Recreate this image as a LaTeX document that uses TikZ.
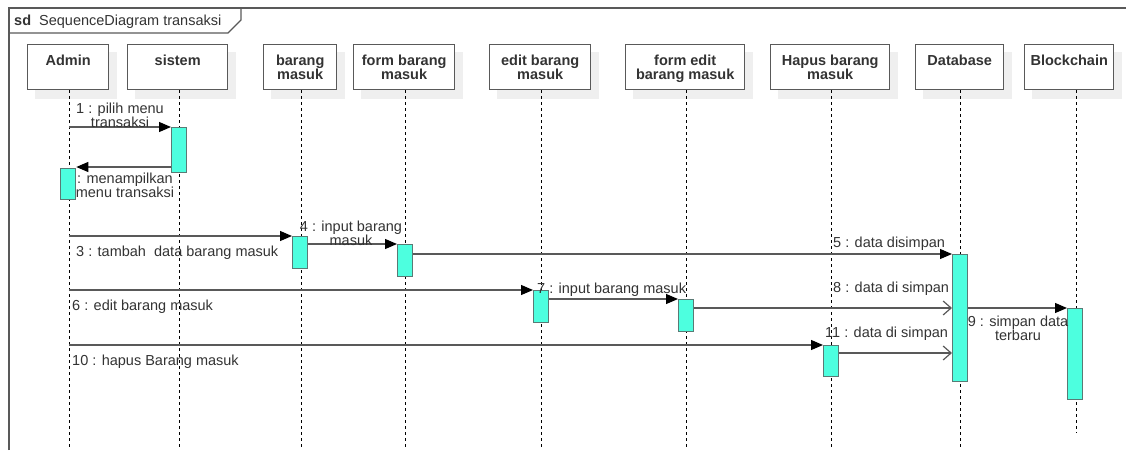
\documentclass[tikz,border=0pt]{standalone}
\usepackage{fontspec}
\setmainfont{Liberation Sans}
\usetikzlibrary{arrows.meta}
\definecolor{txt}{HTML}{333333}
\definecolor{ln}{HTML}{595959}
\definecolor{actfill}{HTML}{4DFFDF}
\definecolor{actdraw}{HTML}{5A7A75}
\definecolor{shadowc}{HTML}{EFEFEF}
\tikzset{
  lbl/.style={font=\fontsize{14.5}{14}\selectfont, text=txt, inner sep=0pt},
  head/.style={draw=ln, line width=1.4pt, fill=white, minimum height=45pt, inner sep=0pt, anchor=north west},
  headtxt/.style={font=\fontsize{14.5}{14}\selectfont\bfseries, text=txt, align=center, inner sep=0pt, anchor=north},
  life/.style={draw=black, line width=0.9pt, dash pattern=on 3pt off 3pt},
  act/.style={draw=actdraw, line width=1.3pt, fill=actfill, minimum width=15pt, inner sep=0pt, anchor=north west},
  msg/.style={draw=ln, line width=1.2pt, -{Triangle[length=12pt,width=10pt,color=black]}},
  ret/.style={draw=ln, line width=1.2pt, -{Straight Barb[length=8pt,width=14pt,line width=1.2pt]}},
}
\begin{document}
\begin{tikzpicture}[x=1pt,y=-1pt]
\useasboundingbox (0,0) rectangle (1126,450);
% frame
\coordinate (fbl) at (9,450);
\coordinate (ftl) at (9,8);
\coordinate (ftr) at (1126,8);
\coordinate (tab1) at (241,8);
\coordinate (tab2) at (241,20);
\coordinate (tab3) at (228,33);
\coordinate (tab4) at (9,33);
\draw[ln, line width=1.3pt] (fbl) -- (ftl) -- (ftr);
\draw[ln, line width=1.3pt] (tab1) -- (tab2) -- (tab3) -- (tab4);
\node[lbl, anchor=base west] (title) at (14,25) {\textbf{sd}\ \ SequenceDiagram transaksi};

% heads: shadows
\foreach \xa/\xb in {27/108,127/227,263/336,353/454,489/590,625/744,770/889,915/1003,1024/1113}{
  \fill[shadowc] (\xa+8,52) rectangle (\xb+9,99);
}
% lifelines
\coordinate (lAdmin) at (69,450);
\coordinate (lSis) at (179,450);
\coordinate (lBm) at (301,450);
\coordinate (lFbm) at (405,450);
\coordinate (lEd) at (541,450);
\coordinate (lFe) at (686,450);
\coordinate (lHp) at (831,450);
\coordinate (lDb) at (960,450);
\coordinate (lBc) at (1076,433);

\node[head, minimum width=81pt] (hAdmin) at (27,44) {};
\node[head, minimum width=100pt] (hSis) at (127,44) {};
\node[head, minimum width=73pt] (hBm) at (263,44) {};
\node[head, minimum width=101pt] (hFbm) at (353,44) {};
\node[head, minimum width=101pt] (hEd) at (489,44) {};
\node[head, minimum width=119pt] (hFe) at (625,44) {};
\node[head, minimum width=119pt] (hHp) at (770,44) {};
\node[head, minimum width=88pt] (hDb) at (915,44) {};
\node[head, minimum width=89pt] (hBc) at (1024,44) {};

\node[headtxt] (tAdmin) at ([yshift=-10.5pt]hAdmin.north) {Admin};
\node[headtxt] (tSis) at ([yshift=-10.5pt]hSis.north) {sistem};
\node[headtxt] (tBm) at ([yshift=-10.5pt]hBm.north) {barang\\masuk};
\node[headtxt] (tFbm) at ([yshift=-10.5pt]hFbm.north) {form barang\\masuk};
\node[headtxt] (tEd) at ([yshift=-10.5pt]hEd.north) {edit barang\\masuk};
\node[headtxt] (tFe) at ([yshift=-10.5pt]hFe.north) {form edit\\barang masuk};
\node[headtxt] (tHp) at ([yshift=-10.5pt]hHp.north) {Hapus barang\\masuk};
\node[headtxt] (tDb) at ([yshift=-10.5pt]hDb.north) {Database};
\node[headtxt] (tBc) at ([yshift=-10.5pt]hBc.north) {Blockchain};

\draw[life] (hAdmin.south -| lAdmin) -- (lAdmin);
\draw[life] (hSis.south -| lSis) -- (lSis);
\draw[life] (hBm.south -| lBm) -- (lBm);
\draw[life] (hFbm.south -| lFbm) -- (lFbm);
\draw[life] (hEd.south -| lEd) -- (lEd);
\draw[life] (hFe.south -| lFe) -- (lFe);
\draw[life] (hHp.south -| lHp) -- (lHp);
\draw[life] (hDb.south -| lDb) -- (lDb);
\draw[life] (hBc.south -| lBc) -- (lBc);

% activations
\node[act, minimum height=45pt] (s1) at (171,127) {};
\node[act, minimum height=31pt] (a1) at (60,168) {};
\node[act, minimum height=32pt] (bm1) at (292,236) {};
\node[act, minimum height=32pt] (fbm1) at (397,244) {};
\node[act, minimum height=127pt] (db1) at (952,254) {};
\node[act, minimum height=32pt] (ed1) at (533,290) {};
\node[act, minimum height=32pt] (fe1) at (678,299) {};
\node[act, minimum height=91pt] (bc1) at (1067,308) {};
\node[act, minimum height=31pt] (hp1) at (823,345) {};

% message coordinates
\coordinate (m1) at (69,127);
\coordinate (m2) at (0,167);
\coordinate (m3) at (69,236);
\coordinate (m6) at (69,290);
\coordinate (m10) at (69,345);
\coordinate (m11) at (0,353);

% messages
\draw[msg] (m1) -- (s1.north west);
\draw[msg] (s1.west |- m2) -- (a1.east |- m2);
\draw[msg] (m3) -- (bm1.north west);
\draw[msg] (bm1.east |- fbm1.north) -- (fbm1.north west);
\draw[msg] (fbm1.east |- db1.north) -- (db1.north west);
\draw[msg] (m6) -- (ed1.north west);
\draw[msg] (ed1.east |- fe1.north) -- (fe1.north west);
\draw[ret] (fe1.east |- bc1.north) -- (db1.west |- bc1.north);
\draw[msg] (db1.east |- bc1.north) -- (bc1.north west);
\draw[msg] (m10) -- (hp1.north west);
\draw[ret] (hp1.east |- m11) -- (db1.west |- m11);

% labels
\node[lbl, align=center, anchor=north] (l1) at (120,103) {1 : pilih menu\\transaksi};
\node[lbl, align=center, anchor=north] (l2) at (125,173) {: menampilkan\\menu transaksi};
\node[lbl, anchor=base west] (l3) at (76,256) {3 : tambah\ \ data barang masuk};
\node[lbl, align=center, anchor=north] (l4) at (351,221) {4 : input barang\\masuk};
\node[lbl, anchor=base west] (l5) at (833,247) {5 : data disimpan};
\node[lbl, anchor=base west] (l6) at (72,310) {6 : edit barang masuk};
\node[lbl, anchor=base west] (l7) at (537,293) {7 : input barang masuk};
\node[lbl, anchor=base west] (l8) at (833,292) {8 : data di simpan};
\node[lbl, align=center, anchor=north] (l9) at (1018,316) {9 : simpan data\\terbaru};
\node[lbl, anchor=base west] (l10) at (72,365) {10 : hapus Barang masuk};
\node[lbl, anchor=base west] (l11) at (825,337) {11 : data di simpan};
\end{tikzpicture}
\end{document}
